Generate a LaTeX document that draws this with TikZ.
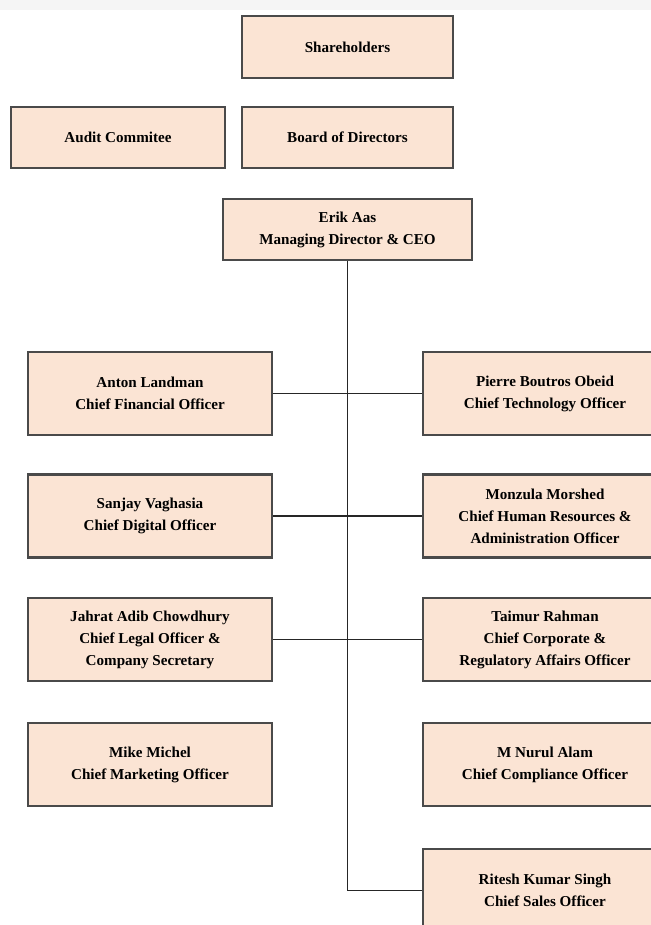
\documentclass[tikz,border=0pt]{standalone}
\usepackage{fontspec}
\setmainfont{Liberation Serif}
\usepackage{xcolor}
\usepackage{tikz}
\usetikzlibrary{arrows, positioning}
\definecolor{peach}{HTML}{FBE4D4}
\definecolor{edge}{HTML}{4A4A4A}
\definecolor{band}{HTML}{F5F5F5}

\begin{document}
\begin{tikzpicture}[-,
				line width=0.9pt,
				post/.style={draw=edge, line width=1.2pt, fill=peach, align=center,
					font=\fontsize{8.6}{12.5}\selectfont\bfseries, inner sep=0pt},
				chief/.style={post, minimum width=4.88cm, minimum height=1.66cm}]
				\useasboundingbox (0,0) rectangle (13.02,-18.5);
				\clip (0,0) rectangle (13.02,-18.5);
				\fill[band] (0,0) rectangle (13.02,-0.2);
				\node at (6.95,-0.94) (share) [post, minimum width=4.22cm, minimum height=1.24cm] {Shareholders};
				\node at (2.36,-2.75) (audit) [post, minimum width=4.28cm, minimum height=1.22cm] {Audit Commitee};
				\node at (6.95,-2.75) (board) [post, minimum width=4.22cm, minimum height=1.22cm] {Board of Directors};
				\node at (6.95,-4.59) (ceo) [post, minimum width=4.98cm, minimum height=1.22cm] {Erik Aas\\Managing Director \& CEO};
				\node at (3.0,-7.87) (cfo) [chief] {Anton Landman\\Chief Financial Officer};
				\node at (10.9,-7.87) (cto) [chief] {Pierre Boutros Obeid\\Chief Technology Officer};
				\node at (3.0,-10.32) (cdo) [chief] {Sanjay Vaghasia\\Chief Digital Officer};
				\node at (10.9,-10.32) (chro) [chief] {Monzula Morshed\\Chief Human Resources \&\\Administration Officer};
				\node at (3.0,-12.79) (clo) [chief] {Jahrat Adib Chowdhury\\Chief Legal Officer \&\\Company Secretary};
				\node at (10.9,-12.79) (cco) [chief] {Taimur Rahman\\Chief Corporate \&\\Regulatory Affairs Officer};
				\node at (3.0,-15.29) (cmo) [chief] {Mike Michel\\Chief Marketing Officer};
				\node at (10.9,-15.29) (comp) [chief] {M Nurul Alam\\Chief Compliance Officer};
				\node at (10.9,-17.81) (cso) [chief] {Ritesh Kumar Singh\\Chief Sales Officer};
				\draw[-, black!85] (ceo.south) |- (cso.west);
				\draw[-, black!85] (cfo) -- (cto);
				\draw[-, black!85] (cdo) -- (chro);
				\draw[-, black!85] (clo) -- (cco);
			\end{tikzpicture}
\end{document}
